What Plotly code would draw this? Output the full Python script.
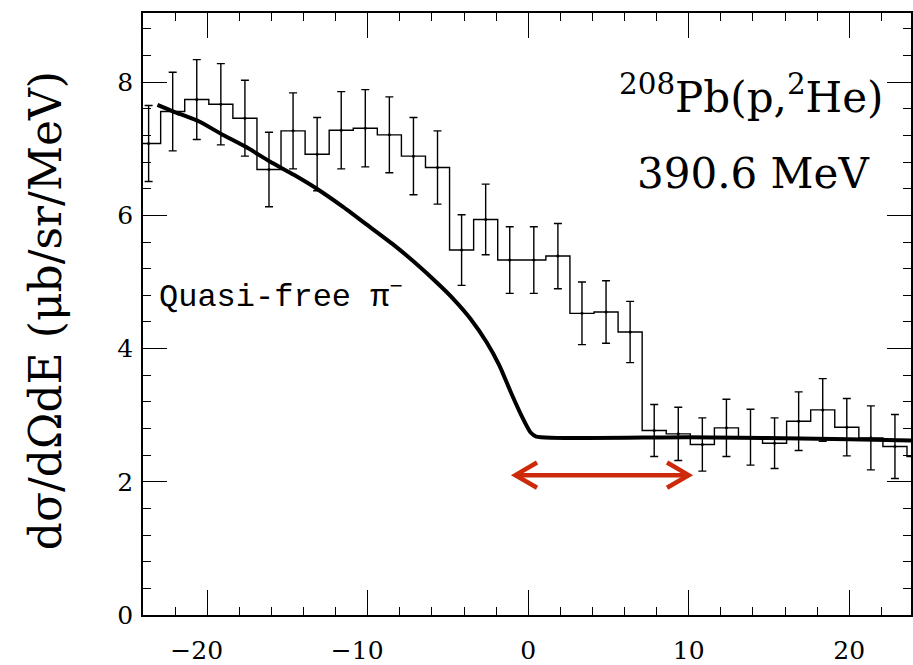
import numpy as np
import plotly.graph_objects as go

# ---------------- data ----------------
bin_width = 1.5
first_center = -23.65
counts = [7.08, 7.56, 7.74, 7.67, 7.46, 6.69, 7.27, 6.92, 7.28, 7.31, 7.21,
          6.89, 6.72, 5.48, 5.94, 5.33, 5.33, 5.39, 4.53, 4.55, 4.25, 2.77,
          2.72, 2.56, 2.81, 2.67, 2.58, 2.91, 3.08, 2.82, 2.66, 2.53, 2.38]
errors = [0.57, 0.59, 0.60, 0.61, 0.57, 0.56, 0.57, 0.55, 0.58, 0.58, 0.57,
          0.58, 0.55, 0.53, 0.53, 0.50, 0.50, 0.49, 0.47, 0.47, 0.46, 0.39,
          0.40, 0.40, 0.43, 0.42, 0.38, 0.44, 0.47, 0.43, 0.48, 0.48, 0.45]

# quasi-free pi- curve
qf_x = [-23.1, -22.1, -20.5, -19.1, -17.6, -16.1, -14.6, -13.1, -11.6, -10.1,
        -8.5, -7.1, -5.6, -4.6, -3.6, -2.6, -1.8, -1.0, -0.35, 0.15, 0.5,
        10.0, 20.0, 23.9]
qf_y = [7.66, 7.56, 7.41, 7.22, 7.03, 6.81, 6.61, 6.39, 6.14, 5.87,
        5.58, 5.30, 4.97, 4.73, 4.45, 4.10, 3.75, 3.30, 2.96, 2.74, 2.68,
        2.67, 2.64, 2.62]

# red double arrow (energy window)
arrow_x = [-0.8, 10.0]
arrow_y = 2.10
head_dx = 1.35
head_dy = 0.19

x_ticks = [-20, -10, 0, 10, 20]
x_ticktext = ["\u221220\u00a0\u00a0\u2009", "\u221210\u00a0\u00a0\u2009", "0", "10", "20"]
y_ticks = [0, 2, 4, 6, 8]

# ---------------- derived ----------------
centers = first_center + bin_width * np.arange(len(counts))
edges = np.append(centers - bin_width / 2, centers[-1] + bin_width / 2)
step_y = list(counts) + [counts[-1]]

fig = go.Figure()

fig.add_trace(go.Scatter(x=edges, y=step_y, mode="lines",
                         line=dict(shape="hv", color="black", width=1.4),
                         showlegend=False, hoverinfo="skip"))
fig.add_trace(go.Scatter(x=centers, y=counts, mode="markers",
                         marker=dict(size=3, color="black"),
                         error_y=dict(type="data", array=errors, color="black",
                                      thickness=1.4, width=4),
                         showlegend=False))
fig.add_trace(go.Scatter(x=qf_x, y=qf_y, mode="lines",
                         line=dict(color="black", width=4, shape="spline", smoothing=0.6),
                         showlegend=False))

red = "#cc2a0a"
fig.add_trace(go.Scatter(x=arrow_x, y=[arrow_y, arrow_y], mode="lines",
                         line=dict(color=red, width=4.5), showlegend=False))
for tip, sgn in [(arrow_x[0], 1), (arrow_x[1], -1)]:
    fig.add_trace(go.Scatter(x=[tip + sgn * head_dx, tip, tip + sgn * head_dx],
                             y=[arrow_y + head_dy, arrow_y, arrow_y - head_dy],
                             mode="lines", line=dict(color=red, width=4.5),
                             showlegend=False))

serif = "DejaVu Serif"
fig.add_annotation(x=22.2, y=7.82, xref="x", yref="y", xanchor="right", yanchor="middle",
                   text="<sup>208</sup>Pb(p,<sup>2</sup>He)", showarrow=False,
                   font=dict(family=serif, size=42, color="black"))
fig.add_annotation(x=21.35, y=6.63, xref="x", yref="y", xanchor="right", yanchor="middle",
                   text="390.6 MeV", showarrow=False,
                   font=dict(family=serif, size=42, color="black"))
fig.add_annotation(x=-23.1, y=4.8, xref="x", yref="y", xanchor="left", yanchor="middle",
                   text="Quasi-free \u03c0<sup>\u2212</sup>", showarrow=False,
                   font=dict(family="Liberation Mono", size=32, color="black"))
fig.add_annotation(x=-0.126, y=0.505, xref="paper", yref="paper", xanchor="center", yanchor="middle",
                   text="d\u03c3/d\u03a9dE (\u03bcb/sr/MeV)", textangle=-90, showarrow=False,
                   font=dict(family=serif, size=44, color="black"))

axis_common = dict(showline=True, linecolor="black", linewidth=1.5, mirror="ticks",
                   ticks="inside", tickcolor="black", tickwidth=1.4,
                   showgrid=False, zeroline=False,
                   tickfont=dict(family=serif, size=25, color="black"))

fig.update_xaxes(range=[-24, 23.85], tickmode="array", tickvals=x_ticks, ticktext=x_ticktext,
                 ticklen=25, ticklabelstandoff=12,
                 minor=dict(tickmode="linear", tick0=0, dtick=2, ticks="inside",
                            ticklen=8, tickwidth=1.2, tickcolor="black", showgrid=False),
                 **axis_common)
fig.update_yaxes(range=[0, 9.04], tickmode="array", tickvals=y_ticks,
                 ticklen=24, ticklabelstandoff=3,
                 minor=dict(tickmode="linear", tick0=0, dtick=0.4, ticks="inside",
                            ticklen=8, tickwidth=1.2, tickcolor="black", showgrid=False),
                 **axis_common)

fig.update_layout(width=913, height=665, margin=dict(l=143, r=0, t=13, b=46),
                  paper_bgcolor="white", plot_bgcolor="white", showlegend=False)

fig.write_html("out.html")
